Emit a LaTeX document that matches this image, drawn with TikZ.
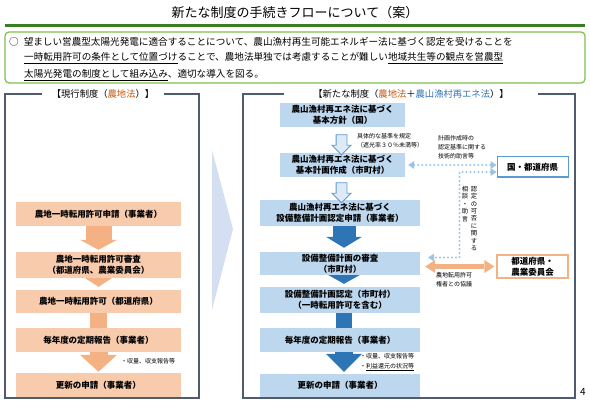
\documentclass[tikz,border=0pt]{standalone}
\usepackage{fontspec}
\setmainfont{Noto Sans CJK JP}
\usetikzlibrary{arrows.meta,shapes.arrows,backgrounds}
\definecolor{peach}{HTML}{F8CBAD}
\definecolor{orangeA}{HTML}{F4B183}
\definecolor{orangeT}{HTML}{C55A11}
\definecolor{skyB}{HTML}{BDD7EE}
\definecolor{blueA}{HTML}{2E75B6}
\definecolor{paleB}{HTML}{DEEBF7}
\definecolor{lineB}{HTML}{5B9BD5}
\definecolor{dotB}{HTML}{9DC3E6}
\definecolor{frameC}{HTML}{505C6E}
\definecolor{greenD}{HTML}{3B7D23}
\definecolor{greenL}{HTML}{7CC04B}
\definecolor{triB}{HTML}{D5DFF2}

\begin{document}
\begin{tikzpicture}
[x=1pt, y=-1pt,
boxL/.style={fill=peach, minimum width=165pt, inner sep=0pt, align=center, font=\bfseries\fontsize{8.5}{11}\selectfont},
boxR/.style={boxL, fill=skyB, minimum width=160pt},
sidebox/.style={draw, fill=white, line width=1pt, minimum width=71pt, inner sep=0pt, align=center, font=\bfseries\fontsize{8.5}{11}\selectfont},
note/.style={align=left, inner sep=0pt, font=\fontsize{6}{9}\selectfont},
vnote/.style={align=center, inner sep=0pt, anchor=north, font=\fontsize{6.3}{7.4}\selectfont},
body/.style={anchor=west, inner sep=0pt, font=\fontsize{9.6}{9.6}\selectfont},
frame/.style={draw=frameC, line width=1.3pt},
ptitle/.style={fill=white, inner ysep=1pt, font=\fontsize{9.3}{9.3}\selectfont},
hollowarr/.style={single arrow, draw=lineB, fill=paleB, line width=0.8pt, minimum height=20pt, minimum width=18pt, single arrow head extend=4pt, single arrow head indent=0pt, inner xsep=0pt, inner ysep=5pt, rotate=-90},
dotline/.style={dotB, line width=2.2pt, dash pattern=on 0pt off 4pt, line cap=round, {Triangle[length=6pt,width=8pt,line width=0pt]}-{Triangle[length=6pt,width=8pt,line width=0pt]}},
]
\useasboundingbox (0,0) rectangle (590,404);

\node (title) at (295,13) {\fontsize{13}{13}\selectfont 新たな制度の手続きフローについて（案）};
\draw[greenD, line width=3.5pt] (5,25.5) -- (585,25.5);
\draw[greenL, line width=1.2pt, rounded corners=4pt] (5,32) rectangle (585,83);
\node[body] (line1) at (9,41.5) {○\hspace{5pt}望ましい営農型太陽光発電に適合することについて、農山漁村再生可能エネルギー法に基づく認定を受けることを};
\node[body] (line2) at (24,58) {\underline{一時転用許可の条件として位置づけ}ることで、農地法単独では考慮することが難しい\underline{地域共生等の観点を営農型}};
\node[body] (line3) at (24,75) {\underline{太陽光発電の制度として組み込み}、適切な導入を図る。};

\draw[frame] (5,94) rectangle (199,398);
\node[ptitle, inner xsep=10pt] (ltitle) at (103,94) {【現行制度（{\color{orangeT}農地法}）】};
\draw[frame] (243,94) rectangle (575,398);
\node[ptitle, inner xsep=29pt] (rtitle) at (411,94) {【新たな制度（{\color{orangeT}農地法}＋{\color{blueA}農山漁村再エネ法}）】};

\fill[triB] (212,150) -- (233,229) -- (212,310) -- cycle;

\node[boxL, minimum height=24pt] (lb1) at (98.5,214) {農地一時転用許可申請（事業者）};
\node[boxL, minimum height=26pt] (lb2) at (98.5,265) {農地一時転用許可審査\\（都道府県、農業委員会）};
\node[boxL, minimum height=23pt] (lb3) at (98.5,301.5) {農地一時転用許可（都道府県）};
\node[boxL, minimum height=24pt] (lb4) at (98.5,340) {毎年度の定期報告（事業者）};
\node[boxL, minimum height=24pt] (lb5) at (98.5,385) {更新の申請（事業者）};
\node[note, anchor=west] (lrep) at (121,361) {・収量、収支報告等};

\node[boxR, minimum width=125pt, minimum height=24pt] (rb1) at (342.5,115) {農山漁村再エネ法に基づく\\基本方針（国）};
\node[boxR, minimum width=125pt, minimum height=24pt] (rb2) at (342.5,165) {農山漁村再エネ法に基づく\\基本計画作成（市町村）};
\node[boxR, minimum height=26pt] (rb3) at (340,213) {農山漁村再エネ法に基づく\\設備整備計画認定申請（事業者）};
\node[boxR, minimum height=23pt] (rb4) at (340,263.5) {設備整備計画の審査\\（市町村）};
\node[boxR, minimum height=26pt] (rb5) at (340,300) {設備整備計画認定（市町村）\\（一時転用許可を含む）};
\node[boxR, minimum height=24pt] (rb6) at (340,340) {毎年度の定期報告（事業者）};
\node[boxR, minimum height=23pt] (rb7) at (340,385.5) {更新の申請（事業者）};

\node[hollowarr] (h1) at (341.5,142) {};
\node[hollowarr] (h2) at (341.5,190) {};
\node[note, anchor=north west] (spec) at (357,133) {具体的な基準を規定\\（遮光率３０％未満等）};

\node[sidebox, draw=lineB, minimum height=20pt] (kuni) at (532.5,167) {国・都道府県};
\node[sidebox, draw=orangeA, line width=1.2pt, minimum height=23pt] (pref) at (532.5,266.5) {都道府県・\\農業委員会};

\node[note, anchor=north west] (advice) at (438,135) {計画作成時の\\認定基準に関する\\技術的助言等};
\draw[dotline] ([xshift=3pt]rb2.east) -- (rb2.east -| kuni.west);
\draw[dotline] ([yshift=-5pt]kuni.west) -- ++(-37,0) |- ([xshift=8pt,yshift=6pt]rb4.east);
\node[vnote] (vcons) at (465,186) {相\\談\\・\\助\\言};
\node[vnote] (vjudge) at (474,186) {認\\定\\の\\可\\否\\に\\関\\す\\る};

\draw[orangeA, line width=4.5pt, {Triangle[length=10pt,width=13pt,line width=0pt]}-{Triangle[length=10pt,width=13pt,line width=0pt]}] ([xshift=5pt]rb4.east |- pref.west) -- ([xshift=-2pt]pref.west);
\node[note, anchor=north west] (consult) at (436,272) {農地転用許可\\権者との協議};

\node[note, anchor=north west, font=\fontsize{6}{10}\selectfont] (rrep) at (360,353) {・収量、収支報告等\\・\underline{利益還元の状況等}};

\node (pnum) at (583,392) {\fontsize{10}{10}\selectfont 4};

\begin{scope}[on background layer]
\draw[orangeA, line width=26pt, -{Triangle[length=10pt,width=37pt,line width=0pt]}] (lb1.south) -- ([yshift=2pt]lb2.north);
\draw[orangeA, line width=26pt, -{Triangle[length=12pt,width=37pt,line width=0pt]}] (lb2.center) -- ([yshift=3pt]lb3.north);
\draw[orangeA, line width=17pt] (lb3.south) -- (lb4.north);
\draw[orangeA, line width=18pt, -{Triangle[length=17pt,width=37pt,line width=0pt]}] (lb4.south) -- ([yshift=1pt]lb5.north);
\draw[blueA, line width=23pt, -{Triangle[length=11pt,width=36pt,line width=0pt]}] ([xshift=4pt]rb3.south) -- ([xshift=4pt,yshift=4pt]rb4.north);
\draw[blueA, line width=23pt, -{Triangle[length=10pt,width=36pt,line width=0pt]}] ([xshift=4pt]rb4.center) -- ([xshift=4pt,yshift=3pt]rb5.north);
\draw[blueA, line width=16pt] ([xshift=4pt]rb5.south) -- ([xshift=4pt]rb6.north);
\draw[blueA, line width=18pt, -{Triangle[length=18pt,width=36pt,line width=0pt]}] ([xshift=4pt]rb6.south) -- ([xshift=4pt,yshift=2pt]rb7.north);
\end{scope}
\end{tikzpicture}
\end{document}
